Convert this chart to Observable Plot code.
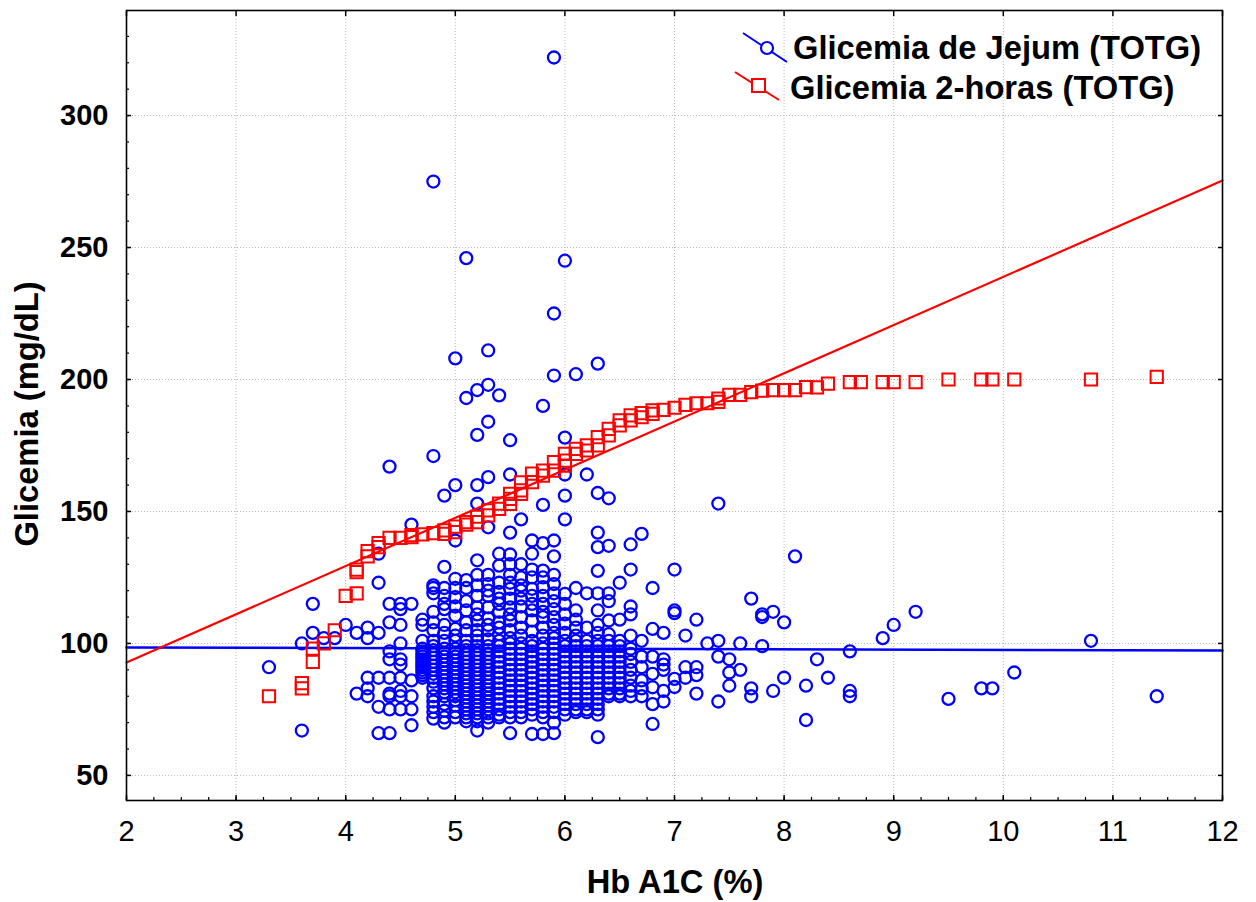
<!DOCTYPE html>
<html><head><meta charset="utf-8">
<script src="https://cdn.jsdelivr.net/npm/d3@7"></script>
<script src="https://cdn.jsdelivr.net/npm/@observablehq/plot@0.6"></script>
<style>
html,body{margin:0;padding:0;background:#fff;}
#chart svg{display:block;}
</style></head><body><div id="chart"></div>
<script>
// ---- Data ----
const xTicks = [2,3,4,5,6,7,8,9,10,11,12];
const yTicks = [50,100,150,200,250,300];
const xGridTicks = [3,4,5,6,7,8,9,10,11];

// Glicemia de Jejum: HbA1c column values and fasting glucose per column
const jejumHba1c = [3.3,3.6,3.7,3.8,3.9,4.0,4.1,4.2,4.3,4.4,4.5,4.6,4.7,4.8,4.9,5.0,5.1,5.2,5.3,5.4,5.5,5.6,5.7,5.8,5.9,6.0,6.1,6.2,6.3,6.4,6.5,6.6,6.7,6.8,6.9,7.0,7.1,7.2,7.3,7.4,7.5,7.6,7.7,7.8,7.9,8.0,8.1,8.2,8.3,8.4,8.6,8.9,9.0,9.2,9.5,9.8,9.9,10.1,10.8,11.4];
const jejumGlicemia = [
  [91],
  [100,67],
  [115,104],
  [102],
  [102],
  [107],
  [104,81],
  [106,102,87,83,80],
  [134,123,104,87,76,66],
  [167,115,108,97,94,87,81,80,75,66],
  [115,113,107,100,94,92,87,82,80,75],
  [145,115,86,80,75,69],
  [109,107,101,98,97,96,95,94,93,92,91,90,89,88,87],
  [275,171,122,121,119,112,108,105,101,99,97.5,96,94.5,93,91.5,90,88.5,87,85.5,83,80,78,76,74,71.5],
  [156,129,121,118,115,113,107,104,101,98,96.5,95,93.5,92,90.5,89,87.5,86,84.5,83,81.5,80,77,74.5,72,70],
  [208,160,139,124.5,121,117.5,114,110.5,105.5,103,101,98,96.5,95,93.5,92,90.5,89,87.5,86,84.5,83,81.5,80,78.5,76.5,74,72],
  [246,193,124,121,116,112.5,108,105,101,99,97.5,96,94.5,93,91.5,90,88.5,87,85.5,84,82.5,81,79.5,78,76.5,75,73.5,72,70.5],
  [196,179,160,153,131.5,126,122,118,113.7,111,108.7,105,103,101,99,97.5,96,94.5,93,91.5,90,88.5,87,85.5,84,82.5,81,79.5,78,76.5,75,73.5,72,70.5,67],
  [211,198,184,163,144,126,122.5,120,118,113.7,109.5,107,105,101.5,99,97.5,96,94.5,93,91.5,90,88.5,87,85.5,84,82.5,81,79.5,78,76.5,75,73.5,72,70],
  [194,134,129.5,123,119.5,117,115,112,108,106,103.5,101,99,97,95,93,91,89,87,85,83,81,79,77,75,73,72],
  [177,164,142,133.7,130,126,123,120.7,117,113.7,111,108.7,105,102,100,98,96,94,92,90,88,86,84,82,80,78,76,74,72,66],
  [147,130,125,122,120,117,114,110,106,103,100,98,96,94,92,90,88,86,84,82,80,78,76,74,72],
  [139,134,128,125,120.7,118,115,112.5,108.7,104.5,101,99,97,95,93,91,89,87,85,83,81,79,77,75,73,65.7],
  [190,152.5,138,127.6,125,121.3,118,115,112,110,106,103,100,98,96,94,92,90,88,86,84,82,80,78,76,74,72,65.7],
  [322,225,201.5,139,133,126,122.5,119,116,113,110,107,104,102,100,98,96,94,92,90,88,86,84,82,80,78,76,74,70,66],
  [245,178,164,156,147,118.8,115,111,107.5,104,101,99,97,95,93,91,89,87,85,83,81,79,77,75,73],
  [202,121,112.5,109,106,103,101,99,97,95,93,91,89,87,85,83,81,79,77,75,74],
  [164,119,106,101,99,97,95,93,91,89,87,85,83,81,79,77,75,74],
  [206,157,142,136.5,127.5,119,112.5,107,104,101,99,97,95,93,91,89,87,85,83,81,79,77,75,73,64.5],
  [155,137,119,116,108.7,103.5,101,99,97,95,93,91,89,87,85,83,81,80],
  [123,109,101,99,97,95,93,91,89,87,85,83,81,80],
  [137.5,128,114,111,103,98,96,93,90,87,84,82,80],
  [141.5,101,95,91,86,83,80],
  [121,105.5,95,88.5,83.4,77,69.5],
  [104,94,92,90,82,78],
  [128,112.5,111.5,86.6,83.5],
  [103,91,87],
  [109,91,88,81],
  [100],
  [153,101,95,78],
  [94,89,84],
  [100,90],
  [117,83,80],
  [111,110,99],
  [112,82],
  [108,87],
  [133],
  [84,71],
  [94],
  [87],
  [97,82,80],
  [102],
  [107],
  [112],
  [79],
  [83],
  [83],
  [89],
  [101],
  [80]
];

// Glicemia 2-horas: HbA1c column values and 2-hour glucose per column
const totgHba1c = [3.3,3.6,3.7,3.8,3.9,4.0,4.1,4.2,4.3,4.4,4.5,4.6,4.7,4.8,4.9,5.0,5.1,5.2,5.3,5.4,5.5,5.6,5.7,5.8,5.9,6.0,6.1,6.2,6.3,6.4,6.5,6.6,6.7,6.8,6.9,7.0,7.1,7.2,7.3,7.4,7.5,7.6,7.7,7.8,7.9,8.0,8.1,8.2,8.3,8.4,8.6,8.7,8.9,9.0,9.2,9.5,9.8,9.9,10.1,10.8,11.4];
const totgGlicemia = [
  [80],[85,83],[98,93],[100],[105],[118],[128,127,119],[135,133],[138,136.5],[140],[140],[141,140.3],[141.3],[141.8],[142.8,141.5],[144.3,142.2],[146,145],[148,146],[150.4,148.5],[153,151],[156.7,154.8,152.9],[161,158,156.7],[164.3,161.1],[165.5,163.6],[168.7,165.5],[171.8,169.3,167.4],[173.7,171.8],[175,173.1],[178.2,175],[181.3,178.8],[184.5,182.6],[186.4,184.5],[187.3,185.7],[188.3,187],[188.5],[189.3],[190.4],[191],[191],[192.8,191.5],[194.2],[194.2],[195.2],[195.8],[196],[196],[196],[197.1],[197],[198.4],[199],[199],[199],[199],[199],[200],[200],[200],[200],[200],[201]
];

// Linear fits (endpoints)
const fitX = [2, 12];
const fitJejum = [98.5, 97.3];
const fitTotg = [92.8, 275.4];

// ---- Build tables ----
const jejum = jejumHba1c.flatMap((x, i) => jejumGlicemia[i].map(y => ({x, y})));
const totg = totgHba1c.flatMap((x, i) => totgGlicemia[i].map(y => ({x, y})));
const lineJejum = fitX.map((x, i) => ({x, y: fitJejum[i]}));
const lineTotg = fitX.map((x, i) => ({x, y: fitTotg[i]}));

const BLUE = "#0000ff", RED = "#ff0000";
const FONT = "'Liberation Sans', Arial, Helvetica, sans-serif";
const xMinor = d3.range(2, 12.001, 0.25);
const yMinor = d3.range(50, 340, 10);

const chart = Plot.plot({
  width: 1256, height: 902,
  marginLeft: 126, marginRight: 34, marginTop: 10, marginBottom: 102,
  style: {fontFamily: FONT, background: "#fff", color: "#000"},
  x: {domain: [2, 12]},
  y: {domain: [40.5, 339.8]},
  marks: [
    Plot.gridX(xGridTicks, {stroke: "#b8b8b8", strokeOpacity: 1, strokeDasharray: "1,2"}),
    Plot.gridY(yTicks, {stroke: "#b8b8b8", strokeOpacity: 1, strokeDasharray: "1,2"}),
    Plot.dot(jejum, {x: "x", y: "y", r: 6, stroke: BLUE, strokeWidth: 2.3, fill: "none"}),
    Plot.line(lineJejum, {x: "x", y: "y", stroke: BLUE, strokeWidth: 2.5}),
    Plot.dot(totg, {x: "x", y: "y", symbol: "square", r: 6.9, stroke: RED, strokeWidth: 2, fill: "none"}),
    Plot.line(lineTotg, {x: "x", y: "y", stroke: RED, strokeWidth: 2.2}),
    // inward ticks
    Plot.axisX(xTicks, {anchor: "bottom", tickSize: -5, tickFormat: () => "", strokeWidth: 1.5, label: null}),
    Plot.axisX(xMinor, {anchor: "bottom", tickSize: -3, tickFormat: () => "", strokeWidth: 1.2, label: null}),
    Plot.axisY(yTicks, {anchor: "left", tickSize: -5, tickFormat: () => "", strokeWidth: 1.5, label: null}),
    Plot.axisY(yMinor, {anchor: "left", tickSize: -3, tickFormat: () => "", strokeWidth: 1.2, label: null}),
    Plot.axisY(yTicks, {anchor: "right", tickSize: -5, tickFormat: () => "", strokeWidth: 1.5, label: null}),
    Plot.axisX(xTicks, {anchor: "top", tickSize: -5, tickFormat: () => "", strokeWidth: 1.5, label: null}),
    // tick labels
    Plot.axisX(xTicks, {anchor: "bottom", tickSize: 0, tickPadding: 20, fontSize: 29, label: null}),
    Plot.axisY(yTicks, {anchor: "left", tickSize: 0, tickPadding: 18, fontSize: 29, fontWeight: "bold", label: null}),
    Plot.frame({stroke: "#000", strokeWidth: 1.6})
  ]
});

const svg = d3.select(chart);
// axis titles
svg.append("text")
  .attr("x", 675).attr("y", 893)
  .attr("text-anchor", "middle")
  .attr("font-family", FONT).attr("font-size", 32.7).attr("font-weight", "bold")
  .text("Hb A1C (%)");
svg.append("text")
  .attr("transform", "translate(38,414) rotate(-90)")
  .attr("text-anchor", "middle")
  .attr("font-family", FONT).attr("font-size", 32.7).attr("font-weight", "bold")
  .text("Glicemia (mg/dL)");

// legend
const lg = svg.append("g").attr("text-anchor", "start");
lg.append("line").attr("x1", 743).attr("y1", 33).attr("x2", 787).attr("y2", 62)
  .attr("stroke", BLUE).attr("stroke-width", 2);
lg.append("circle").attr("cx", 767).attr("cy", 48).attr("r", 6)
  .attr("fill", "#fff").attr("stroke", BLUE).attr("stroke-width", 2.2);
lg.append("text").attr("x", 793).attr("y", 59).attr("text-anchor", "start")
  .attr("font-family", FONT).attr("font-size", 32.7).attr("font-weight", "bold")
  .text("Glicemia de Jejum (TOTG)");
lg.append("line").attr("x1", 735).attr("y1", 72).attr("x2", 779).attr("y2", 100)
  .attr("stroke", RED).attr("stroke-width", 2);
lg.append("rect").attr("x", 752).attr("y", 79).attr("width", 13).attr("height", 13)
  .attr("fill", "#fff").attr("stroke", RED).attr("stroke-width", 2);
lg.append("text").attr("x", 790).attr("y", 99).attr("text-anchor", "start")
  .attr("font-family", FONT).attr("font-size", 32.7).attr("font-weight", "bold")
  .text("Glicemia 2-horas (TOTG)");

document.getElementById("chart").appendChild(chart);
</script>
</body></html>
